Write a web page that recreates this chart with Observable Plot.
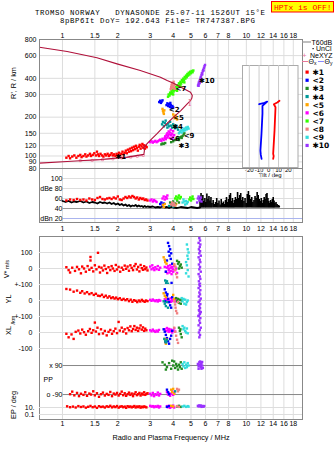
<!DOCTYPE html>
<html><head><meta charset="utf-8">
<script src="https://cdn.jsdelivr.net/npm/d3@7"></script>
<script src="https://cdn.jsdelivr.net/npm/@observablehq/plot@0.6"></script>
<style>
body{margin:0;background:#fff;}
#c{position:relative;width:335px;height:451px;overflow:hidden;background:#fff;}
#c svg{position:absolute;left:0;top:0;}
</style></head><body><div id="c"></div>
<script>
// ---------- tick labels ----------
const freqTicks=[1,1.5,2,3,4,5,6,7,8,10,12,14,16,18];
const rTicks=[80,90,100,120,150,200,300,400,600,800];
const dbTicks=[100,80,60,40,20];
const dbLabels=["100","dBe 80","60","40","dBn 20"];
const tiltTicks=[-20,-10,0,10,20];
const echoColors=["#ff0000","#0000ff","#228b22","#009999","#ffa500","#ff00ff","#33ff00","#f08080","#33dddd","#9933ff"];
const legendLabels=["✱1","<2","✱3","✱4","<5","<6","<7","<8","<9","✱10"];
// in-plot echo labels
const labT=["✱1","<2","✱3","✱4","<5","<6","<7","<9","✱10"];
const labF=[1.94,3.79,4.28,3.95,4.0,3.8,4.12,4.56,5.52];
const labR=[99,229,121,170,199,136,333,143,386];

// ---------- R' (virtual height) ----------
const profile=[[0.75,697],[1.06,646],[1.54,577],[1.98,518],[2.65,460],[3.41,408],[3.71,385],[4.02,366],[4.57,332],[4.97,312],[5.08,294],[5.05,280],[4.97,269],[4.77,254],[4.4,225],[4.02,200],[3.6,172],[3.27,149],[3.0,132],[2.77,117],[2.79,110],[2.77,103],[2.25,98],[1.61,94],[1.06,90.6],[0.75,88]];
const nexyz1=[[1.25,92],[1.45,92.5],[1.65,93.5],[1.88,95],[2.1,96.5],[2.35,98],[2.55,99.5],[2.75,101]];
const echo1_R=[[1.05,97],[1.08,100],[1.1,96],[1.13,99],[1.16,101],[1.19,97],[1.22,100],[1.25,102],[1.27,98],[1.3,100],[1.33,103],[1.35,99],[1.38,101],[1.41,104],[1.43,100],[1.46,102],[1.49,105],[1.52,101],[1.54,108],[1.56,103],[1.58,100],[1.61,104],[1.64,101],[1.67,99],[1.7,103],[1.73,101],[1.76,104],[1.79,100],[1.82,102],[1.85,105],[1.88,101],[1.91,103],[1.94,100],[1.97,104],[2.0,102],[2.03,106],[2.06,101],[2.09,104],[2.12,108],[2.15,103],[2.18,106],[2.21,110],[2.24,105],[2.27,112],[2.3,108],[2.33,114],[2.36,109],[2.39,116],[2.42,111],[2.45,118],[2.48,113],[2.51,120],[2.54,115],[2.57,110],[2.6,118],[2.63,122],[2.66,114],[2.69,119],[2.72,124],[2.75,116],[2.78,121],[2.81,114],[2.84,119],[2.87,117]];
const echo2_R=[[3.36,262],[3.4,268],[3.43,258],[3.46,264],[3.5,270],[3.68,248],[3.72,256],[3.76,244],[3.8,252],[3.84,240],[3.88,248],[3.92,236],[3.96,244],[4.0,238],[3.86,258]];
const echo3_R=[[3.45,123],[3.5,125],[3.55,124],[3.62,126],[3.9,128],[4.0,130],[4.1,133],[4.2,135],[4.28,137],[4.35,139],[4.42,141],[4.5,143],[4.56,147],[4.6,150],[4.45,138],[4.3,133]];
const echo4_R=[[3.48,176],[3.52,184],[3.56,170],[3.6,180],[3.64,188],[3.68,174],[3.72,166],[3.76,178],[3.8,170],[3.85,184],[3.9,172],[3.95,166],[4.0,176],[4.05,170],[4.1,164],[4.15,172],[4.2,166],[4.25,160]];
const echo5_R=[[3.5,232],[3.52,224],[3.54,218],[3.56,212],[3.58,226],[4.0,210],[4.04,202],[4.08,196],[4.12,206],[4.16,198],[4.2,192]];
const echo6_R=[[3.0,128],[3.05,130],[3.1,127],[3.15,129],[3.2,131],[3.25,128],[3.3,130],[3.35,132],[3.4,134],[3.45,131],[3.5,136],[3.55,133],[3.6,138],[3.62,142],[3.65,135],[3.68,146],[3.7,139],[3.72,150],[3.75,143],[3.78,155],[3.8,147],[3.82,138],[3.85,152],[3.88,160],[3.9,145],[3.92,136],[3.95,149],[3.98,141],[4.0,156],[4.02,134],[4.05,145]];
const echo7_R=[[3.75,288],[3.78,300],[3.82,294],[3.85,310],[3.88,302],[3.92,318],[3.95,308],[3.98,326],[4.02,316],[4.06,334],[4.1,324],[4.14,344],[4.18,334],[4.22,354],[4.26,344],[4.3,366],[4.34,354],[4.38,376],[4.42,364],[4.46,388],[4.5,376],[4.54,398],[4.58,386],[4.62,410],[4.66,398],[4.7,420],[4.74,408],[4.78,432],[4.82,420],[4.86,442],[4.9,428],[4.95,450],[5.0,438],[5.05,456],[5.1,446],[5.15,460],[4.0,300],[4.2,320],[4.4,345],[4.6,372]];
const echo8_R=[[3.88,330],[3.9,342],[3.92,354],[3.94,368],[3.96,336],[3.98,350],[4.0,362],[4.02,376],[4.04,340],[4.06,356],[4.08,332]];
const echo9_R=[[4.3,150],[4.35,154],[4.4,158],[4.45,152],[4.5,160],[4.55,156],[4.6,163],[4.65,158],[4.7,166],[4.75,161],[4.8,168],[4.85,163]];
const echo10_R=[[5.46,352],[5.5,362],[5.52,372],[5.55,366],[5.57,384],[5.6,378],[5.62,396],[5.65,410],[5.67,402],[5.7,424],[5.73,438],[5.76,430],[5.79,452],[5.82,466],[5.85,460],[5.88,482],[5.92,496],[5.96,508],[5.5,350],[5.58,372]];

// ---------- tilt inset ----------
const thetaY=[[-9.9,252],[-4.4,258],[-1.6,264],[-6.5,245],[-6.5,213],[-7.5,149],[-8.6,110],[-8.2,102],[-7.4,95]];
const thetaX=[[11,268],[8.7,260],[5.2,252],[6.9,239],[5.9,158],[4.5,104],[5,100],[4.5,95]];

// ---------- amplitude dB ----------
const noise_dB=[[1.0,55],[1.04,53],[1.08,55],[1.12,52],[1.16,54],[1.2,53],[1.25,55],[1.3,52],[1.35,54],[1.4,51],[1.45,53],[1.5,52],[1.55,50],[1.6,53],[1.65,51],[1.7,52],[1.75,50],[1.8,52],[1.85,49],[1.9,51],[1.95,48],[2.0,50],[2.05,47],[2.1,49],[2.15,46],[2.2,48],[2.25,45],[2.3,47],[2.35,44],[2.4,46],[2.45,45],[2.5,47],[2.55,44],[2.6,46],[2.65,44],[2.7,45],[2.75,43],[2.8,45],[2.85,43],[2.9,44],[3.0,43],[3.1,44],[3.2,42],[3.3,43],[3.4,42],[3.5,44],[3.6,42],[3.7,43],[3.8,41],[3.9,43],[4.0,42],[4.2,41],[4.4,43],[4.6,42],[4.8,41],[5.0,43],[5.2,42],[5.4,41],[5.6,42]];
const spikes_dB=[[5.6,62],[5.67,70],[5.73,58],[5.8,66],[5.87,54],[5.95,60],[6.02,52],[6.1,69],[6.18,58],[6.26,64],[6.34,55],[6.42,62],[6.5,50],[6.6,56],[6.7,48],[6.8,52],[6.9,60],[7.0,50],[7.1,55],[7.2,47],[7.3,58],[7.4,50],[7.5,53],[7.6,48],[7.7,56],[7.8,62],[7.9,52],[8.0,58],[8.1,66],[8.2,70],[8.3,54],[8.4,60],[8.5,50],[8.6,56],[8.72,62],[8.84,58],[8.96,72],[9.08,60],[9.2,66],[9.32,70],[9.44,56],[9.56,62],[9.7,54],[9.84,60],[9.98,50],[10.12,68],[10.26,74],[10.4,66],[10.55,58],[10.7,62],[10.85,52],[11.0,56],[11.15,64],[11.3,60],[11.45,72],[11.6,66],[11.75,58],[11.9,54],[12.05,60],[12.2,50],[12.35,56],[12.5,62],[12.65,58],[12.8,68],[12.95,70],[13.1,60],[13.25,54],[13.4,50],[13.55,56],[13.7,52],[13.85,58],[14.0,62],[14.15,55],[14.3,50],[14.5,52],[14.7,48],[14.9,46],[15.1,45]];
const echo1_dB=[[1.05,56],[1.1,58],[1.15,57],[1.2,59],[1.25,57],[1.3,58],[1.35,56],[1.4,60],[1.45,58],[1.5,57],[1.55,61],[1.6,63],[1.65,59],[1.7,58],[1.75,60],[1.8,61],[1.85,59],[1.9,62],[1.95,60],[2.0,64],[2.05,58],[2.1,57],[2.15,60],[2.2,63],[2.25,61],[2.3,64],[2.35,62],[2.4,65],[2.45,63],[2.5,60],[2.55,62],[2.6,58],[2.65,61],[2.7,59],[2.75,60],[2.8,57],[2.85,58],[2.9,56]];
const echo2_dB=[[3.4,49],[3.45,52],[3.5,46],[3.55,50]];
const echo3_dB=[[3.85,52],[3.9,48],[4.0,54],[4.1,50],[4.2,56],[4.3,52]];
const echo4_dB=[[3.8,45],[3.9,48],[4.0,44],[4.05,47]];
const echo5_dB=[[3.52,47],[3.56,43],[3.6,49],[4.1,46],[4.15,49]];
const echo6_dB=[[3.0,56],[3.05,58],[3.1,54],[3.15,57],[3.2,55],[3.25,53],[3.5,60],[3.55,64],[3.6,58],[3.65,63],[3.7,60],[3.72,66]];
const echo7_dB=[[4.1,60],[4.15,64],[4.2,58],[4.25,62],[4.3,66],[4.35,60],[4.4,63],[4.9,58],[4.95,62],[5.0,56],[5.05,60],[5.1,64],[5.15,59]];
const echo8_dB=[[3.9,48],[3.95,52],[4.0,46],[4.05,50],[4.1,47]];
const echo9_dB=[[4.5,52],[4.55,58],[4.6,54],[4.65,48],[4.7,55],[4.75,50],[4.8,53]];
const echo10_dB=[[5.4,52],[5.45,60],[5.5,64],[5.55,56],[5.6,58],[5.65,62],[5.7,54]];

// ---------- V* (m/s) ----------
const echo1_V=[[1.05,8],[1.08,-10],[1.1,-25],[1.13,5],[1.17,-15],[1.2,10],[1.23,-5],[1.26,-30],[1.28,12],[1.31,0],[1.34,-20],[1.37,15],[1.4,-8],[1.42,72],[1.44,4],[1.47,-18],[1.5,20],[1.53,-5],[1.56,98],[1.58,10],[1.6,-25],[1.63,5],[1.66,-12],[1.69,18],[1.72,-3],[1.75,-28],[1.78,8],[1.82,-10],[1.85,15],[1.88,0],[1.92,-15],[1.95,22],[1.98,-6],[2.02,10],[2.06,-20],[2.1,5],[2.14,-8],[2.18,18],[2.22,-2],[2.26,12],[2.3,-14],[2.34,20],[2.38,4],[2.42,-10],[2.46,15],[2.5,28],[2.54,-6],[2.58,10],[2.62,-18],[2.66,22],[2.7,2],[2.74,-8],[2.78,14],[2.82,-4],[2.86,6],[2.9,-12],[1.42,50]];
const echo2_V=[[3.75,160],[3.8,140],[3.85,120],[3.78,105],[3.9,95],[3.82,80],[3.88,60],[3.7,50],[3.95,30],[3.65,-20],[3.92,-90]];
const echo3_V=[[4.2,48],[4.25,30],[4.3,40],[4.35,15],[4.4,25],[4.45,5],[4.3,0]];
const echo4_V=[[3.62,-75],[3.66,-90],[3.7,-80],[3.75,-95]];
const echo5_V=[[3.55,70],[3.6,55],[3.62,40],[3.68,30],[4.05,25]];
const echo6_V=[[3.0,12],[3.05,-5],[3.08,20],[3.12,2],[3.16,-10],[3.2,8],[3.25,-4],[3.3,15],[3.35,-8],[3.4,5],[3.6,10],[3.65,-20],[3.7,5],[3.72,-30],[3.75,15],[3.78,-10],[3.8,0],[3.82,-25],[3.85,20],[3.88,-15],[3.9,5],[3.92,-35],[3.95,10],[3.98,-5],[4.0,-20],[4.05,15],[4.1,-10],[4.15,0],[4.2,-28]];
const echo8_V=[[4.05,25],[4.1,-10],[4.15,-35],[4.2,-55],[4.12,10]];
const echo9_V=[[4.75,150],[4.8,120],[4.85,100],[4.78,80],[4.82,60],[4.7,40],[4.75,20],[4.8,-10],[4.7,-30],[4.85,-50]];
const echo10_V=[[5.55,190],[5.6,175],[5.5,160],[5.62,150],[5.58,135],[5.52,120],[5.6,108],[5.55,95],[5.65,80],[5.5,70],[5.58,55],[5.62,40],[5.52,25],[5.6,10],[5.55,-5],[5.65,-20],[5.5,-35],[5.58,-50],[5.62,-65],[5.52,-80],[5.6,-95]];

// ---------- YL (km) ----------
const echo1_YL=[[1.05,72],[1.1,68],[1.15,55],[1.2,62],[1.25,48],[1.28,58],[1.32,44],[1.36,52],[1.4,40],[1.44,46],[1.48,35],[1.52,42],[1.56,30],[1.6,28],[1.64,36],[1.68,22],[1.72,30],[1.76,18],[1.8,26],[1.84,15],[1.88,20],[1.92,12],[1.96,18],[2.0,8],[2.05,14],[2.1,4],[2.15,10],[2.2,2],[2.25,8],[2.3,-4],[2.35,5],[2.4,-8],[2.45,2],[2.5,-2],[2.55,-10],[2.6,0],[2.65,-6],[2.7,4],[2.75,-3],[2.8,-8],[2.85,0],[2.9,-4]];
const echo2_YL=[[3.6,70],[3.65,50],[3.7,30],[3.75,10],[3.8,-10],[3.85,-30],[3.9,-45],[3.62,-5],[3.72,40],[3.95,20]];
const echo3_YL=[[4.15,15],[4.2,-5],[4.25,10],[4.3,-15],[4.35,5],[4.4,-20],[4.45,0]];
const echo4_YL=[[3.55,-5],[3.6,-20],[3.65,-35],[3.7,-10],[3.75,-45]];
const echo5_YL=[[3.55,45],[3.6,30],[3.65,20],[4.0,35],[4.05,10]];
const echo6_YL=[[3.0,4],[3.05,-2],[3.1,6],[3.15,0],[3.2,-4],[3.25,2],[3.3,-6],[3.35,3],[3.4,-1],[3.6,8],[3.65,-5],[3.7,12],[3.75,0],[3.78,-10],[3.8,6],[3.85,-4],[3.88,15],[3.9,-8],[3.95,4],[4.0,-2],[4.05,10],[4.1,-6],[4.15,2]];
const echo8_YL=[[4.05,-5],[4.1,-25],[4.12,-45],[4.15,-65],[4.2,-80],[4.25,-10]];
const echo9_YL=[[4.45,15],[4.5,-5],[4.55,10],[4.6,-20],[4.65,5],[4.7,-25],[4.75,-10],[4.8,0]];
const echo10_YL=[[5.55,100],[5.6,90],[5.5,78],[5.62,65],[5.55,50],[5.6,38],[5.52,25],[5.65,12],[5.58,0],[5.5,-10],[5.62,-22],[5.55,-35],[5.6,-48],[5.52,-60],[5.65,-72],[5.58,-85],[5.5,-98]];

// ---------- XL (km) ----------
const echo1_XL=[[1.05,-8],[1.08,-30],[1.12,-12],[1.15,-40],[1.18,4],[1.22,12],[1.25,-6],[1.28,18],[1.31,2],[1.34,-14],[1.38,8],[1.41,22],[1.44,-2],[1.47,14],[1.5,62],[1.52,6],[1.55,30],[1.58,-10],[1.62,20],[1.66,-6],[1.7,10],[1.74,-18],[1.78,4],[1.82,16],[1.86,-8],[1.9,8],[1.94,24],[1.98,-4],[2.02,66],[2.05,12],[2.1,30],[2.14,6],[2.18,20],[2.22,-6],[2.26,28],[2.3,14],[2.34,38],[2.38,8],[2.42,22],[2.46,40],[2.5,16],[2.54,30],[2.58,10],[2.62,26],[2.66,44],[2.7,18],[2.74,32],[2.78,10],[2.82,24],[2.86,14]];
const echo2_XL=[[3.55,20],[3.6,5],[3.65,-15],[3.7,-35],[3.75,-55],[3.8,-70],[3.85,-40],[3.9,-20],[3.62,-60],[3.95,10]];
const echo3_XL=[[4.3,30],[4.35,10],[4.4,-10],[4.45,-30],[4.38,20]];
const echo4_XL=[[3.58,-40],[3.62,-55],[3.66,-62],[3.7,-48]];
const echo5_XL=[[3.6,-40],[3.62,-55],[3.65,-70],[3.7,-45]];
const echo6_XL=[[3.0,14],[3.05,8],[3.1,18],[3.15,10],[3.2,4],[3.25,12],[3.3,6],[3.35,16],[3.6,20],[3.65,10],[3.7,28],[3.75,14],[3.78,4],[3.8,22],[3.85,8],[3.9,18],[3.95,0],[4.0,12],[4.05,26],[4.1,6]];
const echo8_XL=[[4.05,30],[4.1,5],[4.15,-20],[4.2,-45],[4.25,-65]];
const echo9_XL=[[4.5,40],[4.55,20],[4.6,30],[4.65,10],[4.7,0],[4.75,25],[4.8,-5]];
const echo10_XL=[[5.55,135],[5.6,120],[5.5,105],[5.62,90],[5.55,75],[5.6,60],[5.5,45],[5.65,30],[5.58,15],[5.52,0],[5.6,-15],[5.55,-30]];

// ---------- PP (deg) ----------
const echo1_PP=[[1.1,-88],[1.13,-72],[1.16,-95],[1.2,-80],[1.23,-100],[1.26,-85],[1.3,-92],[1.33,-76],[1.36,-98],[1.4,-84],[1.43,-90],[1.47,-70],[1.5,-95],[1.54,-82],[1.58,-104],[1.62,-88],[1.66,-78],[1.7,-96],[1.74,-86],[1.78,-92],[1.82,-74],[1.86,-100],[1.9,-84],[1.94,-90],[1.98,-80],[2.02,-96],[2.06,-86],[2.1,-72],[2.14,-94],[2.18,-82],[2.22,-98],[2.26,-88],[2.3,-78],[2.34,-92],[2.38,-84],[2.42,-100],[2.46,-86],[2.5,-76],[2.54,-94],[2.58,-88],[2.62,-80],[2.66,-96],[2.7,-84],[2.74,-90],[2.78,-76],[2.82,-92],[2.86,-86],[2.9,-82]];
const echo2_PP=[[3.7,-60],[3.75,-75],[3.8,-88]];
const echo3_PP=[[3.5,110],[3.6,95],[3.7,80],[3.8,105],[3.9,70],[4.0,90],[4.05,115],[4.1,75],[4.15,100],[4.2,85],[4.25,65],[4.3,95],[4.35,80],[4.4,110],[4.45,70],[3.65,65],[3.95,120]];
const echo4_PP=[[4.1,-70]];
const echo5_PP=[[3.9,-60],[3.95,-75],[4.0,-55],[4.05,-85]];
const echo6_PP=[[3.0,-85],[3.05,-95],[3.1,-80],[3.15,-100],[3.2,-88],[3.25,-92],[3.3,-78],[3.35,-96],[3.4,-86],[3.7,-75],[3.75,-90],[3.8,-82],[3.85,-98],[3.9,-85],[3.95,-70],[4.0,-92],[4.05,-80]];
const echo8_PP=[[4.2,-55],[4.25,-70],[4.3,-60]];
const echo9_PP=[[4.5,100],[4.55,85],[4.6,110],[4.65,75],[4.7,95],[4.75,80],[4.8,105],[4.85,90]];
const echo10_PP=[[5.45,100],[5.5,85],[5.55,110],[5.6,95],[5.65,80],[5.7,105],[5.75,90],[5.8,75],[5.5,70],[5.6,115],[5.7,70],[5.55,92],[5.65,100],[5.75,112]];

// ---------- EP (deg) ----------
const echo1_EP=[[1.06,22],[1.1,12],[1.14,18],[1.18,10],[1.22,25],[1.26,14],[1.3,20],[1.34,9],[1.38,16],[1.42,28],[1.46,12],[1.5,19],[1.54,8],[1.58,24],[1.62,14],[1.66,18],[1.7,10],[1.74,22],[1.78,15],[1.82,30],[1.86,11],[1.9,20],[1.94,13],[1.98,26],[2.02,9],[2.06,17],[2.1,22],[2.14,12],[2.18,18],[2.22,8],[2.26,24],[2.3,14],[2.34,20],[2.38,11],[2.42,16],[2.46,26],[2.5,10],[2.54,19],[2.58,13],[2.62,22],[2.66,9],[2.7,17],[2.74,12],[2.78,20],[2.82,15],[2.86,11]];
const echo2_EP=[[3.7,15],[3.8,25]];
const echo3_EP=[[4.2,20],[4.3,30],[4.4,15]];
const echo5_EP=[[3.9,30],[4.0,20]];
const echo6_EP=[[3.0,30],[3.05,18],[3.1,25],[3.15,12],[3.2,22],[3.25,15],[3.3,28],[3.35,10],[3.4,20],[3.7,25],[3.75,12],[3.8,30],[3.85,8],[3.9,20],[3.95,15],[4.0,35],[4.05,10]];
const echo8_EP=[[4.2,25],[4.3,15]];
const echo9_EP=[[4.5,20],[4.6,30],[4.7,15],[4.8,25],[4.85,18]];
const echo10_EP=[[5.45,30],[5.5,20],[5.55,40],[5.6,25],[5.65,35],[5.7,15],[5.75,28],[5.8,22],[5.85,18],[5.9,26]];

// ---------- drawing ----------
const C=document.getElementById("c");
const W=335,H=451;
const FONT='"Liberation Sans",Arial,sans-serif';
const X={type:"log",domain:[0.75,20.2],axis:null};
function layer(top,bottom,opts,left=39,right=33){
  const el=Plot.plot(Object.assign({width:W,height:H,marginLeft:left,marginRight:right,marginTop:top,marginBottom:H-bottom,
    style:{background:"transparent",fontFamily:FONT,fontSize:"7px",color:"#000",overflow:"visible"}},opts));
  C.appendChild(el);
}
const sq=(arr,color,r=1.35)=>Plot.dot(arr,{x:d=>d[0],y:d=>d[1],fill:color,symbol:"square",r});
const sets=(list)=>list.map(([arr,i])=>sq(arr,echoColors[i]));

// top: R'
layer(39,168,{x:X,y:{type:"log",domain:[80,800],axis:null},marks:[
  Plot.ruleX(freqTicks,{stroke:"#ddd"}),
  Plot.ruleY(rTicks,{stroke:"#ddd"}),
  Plot.text(freqTicks,{x:d=>d,frameAnchor:"top",dy:-6,text:d=>String(d)}),
  Plot.text(rTicks,{y:d=>d,frameAnchor:"left",dx:-3,textAnchor:"end",text:d=>String(d)}),
  Plot.line(nexyz1,{x:d=>d[0],y:d=>d[1],stroke:"#e8789a",strokeWidth:0.9}),
  Plot.dot(nexyz1,{x:d=>d[0],y:d=>d[1],symbol:"square",r:1.1,stroke:"#e8789a",fill:"#fff",strokeWidth:0.8}),
  ...sets([[echo1_R,0],[echo6_R,5],[echo3_R,2],[echo4_R,3],[echo9_R,8],[echo5_R,4],[echo2_R,1],[echo7_R,6],[echo8_R,7],[echo10_R,9]]),
  Plot.line(profile,{x:d=>d[0],y:d=>d[1],stroke:"#b0103a",strokeWidth:1.1}),
  Plot.text(["I"],{x:4.93,y:258,text:d=>d,fill:"#e8789a",fontSize:9,fontFamily:"DejaVu Serif"}),
  Plot.text(labT,{x:(d,i)=>labF[i],y:(d,i)=>labR[i],text:d=>d,textAnchor:"start",fontSize:7,fontWeight:"bold",fontFamily:"DejaVu Sans",fill:"#000"}),
  Plot.frame({stroke:"#888"})
]});

// tilt inset
layer(65,167,{x:{domain:[-27,30],axis:null},y:{type:"log",domain:[81.5,503],axis:null},marks:[
  Plot.frame({fill:"#fff",stroke:"#aaa"}),
  Plot.ruleX(tiltTicks,{stroke:"#ccc"}),
  Plot.line(thetaY,{x:d=>d[0],y:d=>d[1],stroke:"#0000ff",strokeWidth:1.8}),
  Plot.line(thetaX,{x:d=>d[0],y:d=>d[1],stroke:"#ff0000",strokeWidth:1.8}),
  Plot.text(tiltTicks,{x:d=>d,frameAnchor:"bottom",dy:4,text:d=>String(d),fontSize:6}),
  Plot.text(["Tilt / deg"],{frameAnchor:"bottom",dy:9,text:d=>d,fontSize:6})
]},242,37.5);

// dB panel
layer(168,222,{x:X,y:{domain:[12,120],axis:null},marks:[
  Plot.ruleX(freqTicks,{stroke:"#ddd"}),
  Plot.ruleY([100,80,60],{y:d=>d,x1:1.01,x2:20.2,stroke:"#ddd"}),
  Plot.ruleY([40],{y:d=>d,x1:1.01,x2:20.2,stroke:"#999"}),
  Plot.ruleY([20],{y:d=>d,x1:1.01,x2:20.2,stroke:"#aab4ee"}),
  Plot.text(dbTicks,{y:d=>d,frameAnchor:"left",dx:23,textAnchor:"end",text:(d,i)=>dbLabels[i]}),
  Plot.text(freqTicks,{x:d=>d,frameAnchor:"bottom",dy:8,text:d=>String(d)}),
  Plot.line(noise_dB,{x:d=>d[0],y:d=>d[1],stroke:"#000",strokeWidth:1.8}),
  Plot.ruleX(spikes_dB,{x:d=>d[0],y1:41,y2:d=>d[1],stroke:"#000",strokeWidth:1.6}),
  ...sets([[echo1_dB,0],[echo6_dB,5],[echo2_dB,1],[echo5_dB,4],[echo3_dB,2],[echo4_dB,3],[echo8_dB,7],[echo7_dB,6],[echo9_dB,8],[echo10_dB,9]]),
  Plot.frame({stroke:"#888"})
]});

// lower frame
layer(236,419,{x:X,y:{domain:[0,1],axis:null},marks:[
  Plot.ruleX(freqTicks,{stroke:"#ddd"}),
  Plot.text(freqTicks,{x:d=>d,frameAnchor:"bottom",dy:6,text:d=>String(d)}),
  Plot.text(["Radio and Plasma Frequency / MHz"],{frameAnchor:"bottom",dy:20,text:d=>d,fontSize:7.3}),
  Plot.frame({stroke:"#888"})
]});
// V*
layer(236,284,{x:X,y:{domain:[-100,200],axis:null},marks:[
  Plot.ruleY([100,0],{stroke:"#ddd"}),
  Plot.text([100,0],{y:d=>d,frameAnchor:"left",dx:-7,textAnchor:"end",text:d=>String(d)}),
  ...sets([[echo1_V,0],[echo6_V,5],[echo2_V,1],[echo5_V,4],[echo4_V,3],[echo3_V,2],[echo8_V,7],[echo9_V,8],[echo10_V,9]])
]});
// YL
layer(284,316,{x:X,y:{domain:[-100,100],axis:null},marks:[
  Plot.ruleY([100,0,-100],{stroke:"#ddd"}),
  Plot.text([100,0,-100],{y:d=>d,frameAnchor:"left",dx:-7,textAnchor:"end",text:d=>d===0?"0":"+-100"}),
  ...sets([[echo1_YL,0],[echo6_YL,5],[echo2_YL,1],[echo5_YL,4],[echo4_YL,3],[echo3_YL,2],[echo8_YL,7],[echo9_YL,8],[echo10_YL,9]])
]});
// XL
layer(316,356,{x:X,y:{domain:[-150,100],axis:null},marks:[
  Plot.ruleY([0,-100],{stroke:"#ddd"}),
  Plot.text([0,-100],{y:d=>d,frameAnchor:"left",dx:-7,textAnchor:"end",text:d=>String(d)}),
  ...sets([[echo1_XL,0],[echo6_XL,5],[echo2_XL,1],[echo5_XL,4],[echo4_XL,3],[echo3_XL,2],[echo8_XL,7],[echo9_XL,8],[echo10_XL,9]])
]});
// PP
layer(356,400,{x:X,y:{domain:[-127,146],axis:null},marks:[
  Plot.ruleY([90,-90],{y:d=>d,x1:1.01,x2:20.2,stroke:"#888"}),
  Plot.text([90,-90],{y:d=>d,frameAnchor:"left",dx:23,textAnchor:"end",text:d=>d>0?"x 90":"o -90"}),
  Plot.text(["PP"],{y:0,frameAnchor:"left",dx:4,textAnchor:"start",text:d=>d}),
  ...sets([[echo1_PP,0],[echo6_PP,5],[echo2_PP,1],[echo5_PP,4],[echo4_PP,3],[echo3_PP,2],[echo8_PP,7],[echo9_PP,8],[echo10_PP,9]])
]});
// EP
layer(400,419,{x:X,y:{type:"log",domain:[0.0037,1000],axis:null},marks:[
  Plot.ruleY([10,0.1],{stroke:"#ddd"}),
  Plot.text([10,0.1],{y:d=>d,frameAnchor:"left",dx:-5,textAnchor:"end",text:d=>d===10?"10.":"0.1"}),
  ...sets([[echo1_EP,0],[echo6_EP,5],[echo2_EP,1],[echo5_EP,4],[echo3_EP,2],[echo8_EP,7],[echo9_EP,8],[echo10_EP,9]])
]});

// ---------- overlay text: titles, legend, axis names ----------
const NS="http://www.w3.org/2000/svg";
const ov=document.createElementNS(NS,"svg");
ov.setAttribute("width",W);ov.setAttribute("height",H);
let s='';
const mono='font-family="Liberation Mono, DejaVu Sans Mono, monospace"';
s+=`<text x="35" y="14.5" ${mono} font-size="7.4" textLength="230" lengthAdjust="spacing" xml:space="preserve">TROMSO NORWAY   DYNASONDE 25-07-11 1526UT 15°E</text>`;
s+=`<text x="60" y="22.8" ${mono} font-size="7.4" textLength="195" lengthAdjust="spacing" xml:space="preserve">8pBP6It DoY= 192.643 File= TR747387.BPG</text>`;
s+=`<rect x="271.5" y="1.5" width="62" height="10.5" fill="#ffff00" stroke="#ff0000" stroke-width="1"/>`;
s+=`<text x="274" y="10" ${mono} font-size="8" fill="#ff0000" xml:space="preserve">HPTx is OFF!</text>`;
const sf=`font-family="Liberation Sans, Arial, sans-serif"`;
// legend top entries
s+=`<line x1="302.5" x2="311" y1="42" y2="42" stroke="#aaa" stroke-width="1.5"/><text x="311.5" y="44.5" ${sf} font-size="7">T60dB</text>`;
s+=`<rect x="312.5" y="48" width="1.2" height="1.2" fill="#000"/><text x="316" y="51" ${sf} font-size="7">UnCl</text>`;
s+=`<text x="302" y="58" ${sf} font-size="8" fill="#e8789a">+</text><text x="310" y="57.5" ${sf} font-size="7">NeXYZ</text>`;
s+=`<line x1="302" x2="308" y1="61.5" y2="61.5" stroke="#e8789a" stroke-width="1"/><text x="308.5" y="64" ${sf} font-size="7">Θ<tspan font-size="5" dy="1">x</tspan></text>`;
s+=`<line x1="318" x2="324" y1="61.5" y2="61.5" stroke="#8888ff" stroke-width="1"/><text x="324.5" y="64" ${sf} font-size="7">Θ<tspan font-size="5" dy="1">y</tspan></text>`;
legendLabels.forEach((t,i)=>{
  const y=72.3+i*8.15;
  s+=`<rect x="305.5" y="${y-1.8}" width="3.2" height="3.2" fill="${echoColors[i]}"/>`;
  s+=`<text x="312.5" y="${y+2.8}" font-family="DejaVu Sans, sans-serif" font-size="7.5" font-weight="bold">${t.replace('<','&lt;')}</text>`;
});
// rotated axis names
const rot=(x,y,txt,fs=7.3)=>`<text transform="translate(${x},${y}) rotate(-90)" text-anchor="middle" dominant-baseline="middle" ${sf} font-size="${fs}">${txt}</text>`;
s+=rot(14,83,"R', R / km");
s+=rot(7.5,274.5,"V*");
s+=rot(7.5,264.5,"m/s",5.5);
s+=rot(9.5,299,"YL");
s+=rot(14,320,"/km",5.5);
s+=rot(9.5,330.5,"XL");
s+=rot(14,405,"EP / deg");
ov.innerHTML=s;
C.appendChild(ov);
</script></body></html>
